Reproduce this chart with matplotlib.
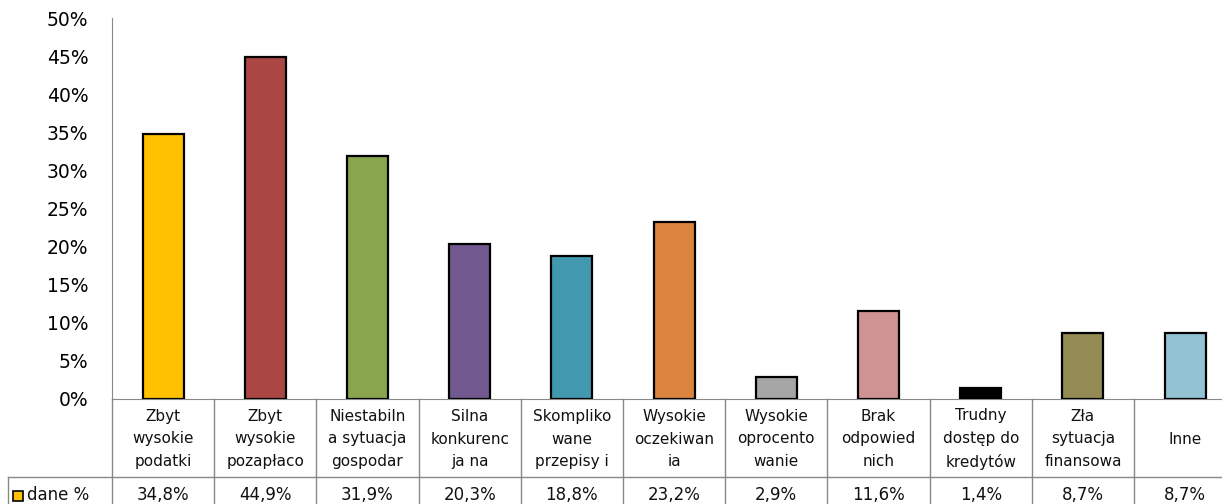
import matplotlib
matplotlib.use("Agg")
import matplotlib.pyplot as plt
from matplotlib.ticker import PercentFormatter
from matplotlib.patches import Rectangle

# dane ankiety
kategorie = ["Zbyt\nwysokie\npodatki", "Zbyt\nwysokie\npozapłaco",
             "Niestabiln\na sytuacja\ngospodar", "Silna\nkonkurenc\nja na",
             "Skompliko\nwane\nprzepisy i", "Wysokie\noczekiwan\nia",
             "Wysokie\noprocento\nwanie", "Brak\nodpowied\nnich",
             "Trudny\ndostęp do\nkredytów", "Zła\nsytuacja\nfinansowa", "Inne"]
wartosci = [34.8, 44.9, 31.9, 20.3, 18.8, 23.2, 2.9, 11.6, 1.4, 8.7, 8.7]
etykiety = ["34,8%", "44,9%", "31,9%", "20,3%", "18,8%", "23,2%",
            "2,9%", "11,6%", "1,4%", "8,7%", "8,7%"]
kolory = ["#FFC000", "#AA4643", "#89A54E", "#71588F", "#4198AF", "#DB843D",
          "#A5A5A5", "#D09394", "#000000", "#948A54", "#93C2D4"]
seria = "dane %"

W, H = 1222, 504
fig = plt.figure(figsize=(W / 100, H / 100), dpi=100)
ax = fig.add_axes([112 / W, 105 / H, 11 * 102.2 / W, 381 / H])

n = len(wartosci)
x = list(range(n))
ax.bar(x, wartosci, width=0.4, color=kolory, edgecolor="black",
       linewidth=1.6, zorder=3)

ax.set_xlim(-0.5, n - 0.5)
ax.set_ylim(0, 50)
ax.set_yticks(range(0, 51, 5))
ax.yaxis.set_major_formatter(PercentFormatter(decimals=0))
ax.tick_params(axis="y", length=0, pad=17, labelsize=13.5)
ax.tick_params(axis="x", length=0, labelbottom=False)
for s in ["top", "right"]:
    ax.spines[s].set_visible(False)
szary = "#898989"
ax.spines["left"].set_color(szary)
ax.spines["bottom"].set_color(szary)

# tabela danych pod wykresem
tr = ax.get_xaxis_transform()
px = 1 / 381  # jeden piksel w jednostkach osi
y_kat = -78 * px
y_dol = -110 * px
x_leg = (8 - 112) / 102.2 - 0.5

for i in range(n + 1):
    ax.plot([i - 0.5, i - 0.5], [0, y_dol], color=szary, lw=1,
            transform=tr, clip_on=False)
ax.plot([x_leg, n - 0.5], [y_kat, y_kat], color=szary, lw=1,
        transform=tr, clip_on=False)
ax.plot([x_leg, x_leg], [y_kat, y_dol], color=szary, lw=1,
        transform=tr, clip_on=False)

for i in range(n):
    ax.text(i, -40 * px, kategorie[i], transform=tr, ha="center", va="center",
            fontsize=11, linespacing=1.65, color="#111111")
    ax.text(i, -96 * px, etykiety[i], transform=tr, ha="center", va="center",
            fontsize=12, color="#111111")

# znacznik legendy
ax.add_patch(Rectangle((x_leg + 5 / 102.2, -102 * px), 10 / 102.2, 10 * px,
                       facecolor=kolory[0], edgecolor="black", lw=1.2,
                       transform=tr, clip_on=False))
ax.text(x_leg + 19 / 102.2, -96 * px, seria, transform=tr, ha="left",
        va="center", fontsize=12, color="#111111")

fig.savefig("out.png", dpi=100)
